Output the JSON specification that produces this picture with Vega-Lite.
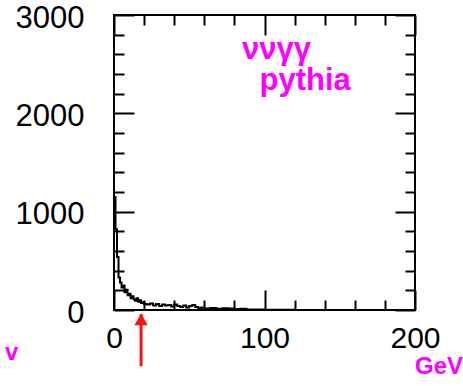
{
  "$schema": "https://vega.github.io/schema/vega-lite/v6.json",
  "autosize": "none",
  "width": 301,
  "height": 295,
  "padding": {"left": 114, "top": 15, "right": 48, "bottom": 76},
  "background": "white",
  "config": {
    "view": {"stroke": "black", "strokeWidth": 2},
    "axis": {
      "grid": false,
      "domain": false,
      "labelFont": "Liberation Sans",
      "labelFontSize": 30,
      "labelColor": "black",
      "tickColor": "black",
      "tickWidth": 2,
      "title": null
    }
  },
  "datasets": {
    "hist": [
      {"x": 0, "y": 1150}, {"x": 1, "y": 820}, {"x": 2, "y": 540}, {"x": 3, "y": 330},
      {"x": 4, "y": 280}, {"x": 5, "y": 230}, {"x": 6, "y": 250}, {"x": 7, "y": 180},
      {"x": 8, "y": 205}, {"x": 9, "y": 150}, {"x": 10, "y": 165}, {"x": 11, "y": 120},
      {"x": 12, "y": 140}, {"x": 13, "y": 110}, {"x": 14, "y": 95}, {"x": 15, "y": 120},
      {"x": 16, "y": 85}, {"x": 17, "y": 100}, {"x": 18, "y": 70}, {"x": 19, "y": 80},
      {"x": 20, "y": 60}, {"x": 22, "y": 55}, {"x": 24, "y": 65}, {"x": 26, "y": 45},
      {"x": 28, "y": 60}, {"x": 30, "y": 40}, {"x": 32, "y": 55}, {"x": 34, "y": 45},
      {"x": 36, "y": 50}, {"x": 38, "y": 35}, {"x": 40, "y": 55}, {"x": 42, "y": 40},
      {"x": 44, "y": 30}, {"x": 46, "y": 45}, {"x": 48, "y": 25}, {"x": 50, "y": 40},
      {"x": 52, "y": 50}, {"x": 54, "y": 30}, {"x": 56, "y": 20}, {"x": 58, "y": 25},
      {"x": 60, "y": 15}, {"x": 64, "y": 20}, {"x": 68, "y": 12}, {"x": 72, "y": 18},
      {"x": 76, "y": 15}, {"x": 80, "y": 10}, {"x": 84, "y": 12}, {"x": 88, "y": 6},
      {"x": 92, "y": 5}, {"x": 100, "y": 3}, {"x": 110, "y": 2}, {"x": 120, "y": 1},
      {"x": 140, "y": 0}, {"x": 200, "y": 0}
    ],
    "notes": [
      {"x": 108, "y": 2640, "label": "ννγγ"},
      {"x": 127, "y": 2330, "label": "pythia"}
    ],
    "small": [
      {"x": 216, "y": -580, "label": "GeV"},
      {"x": -68, "y": -440, "label": "v"}
    ],
    "arrow": [
      {"x": 18, "y": -570, "y2": -40}
    ],
    "head": [
      {"x": 18, "y": -95}
    ]
  },
  "resolve": {"axis": {"x": "independent", "y": "independent"}},
  "layer": [
    {
      "data": {"name": "hist"},
      "mark": {"type": "line", "interpolate": "step-after", "color": "black", "strokeWidth": 2},
      "encoding": {
        "x": {
          "field": "x", "type": "quantitative",
          "scale": {"domain": [0, 200], "nice": false, "zero": false},
          "axis": {
            "orient": "bottom",
            "values": [0, 20, 40, 60, 80, 100, 120, 140, 160, 180, 200],
            "tickSize": {"condition": {"test": "datum.value % 100 === 0", "value": -20}, "value": -10},
            "labelExpr": "datum.value % 100 === 0 ? datum.label : ''",
            "labelPadding": 33,
            "labelFlush": false
          }
        },
        "y": {
          "field": "y", "type": "quantitative",
          "scale": {"domain": [0, 3000], "nice": false, "zero": false},
          "axis": {
            "orient": "left",
            "values": [0, 200, 400, 600, 800, 1000, 1200, 1400, 1600, 1800, 2000, 2200, 2400, 2600, 2800, 3000],
            "tickSize": {"condition": {"test": "datum.value % 1000 === 0", "value": -20}, "value": -10},
            "labelExpr": "datum.value % 1000 === 0 ? datum.label : ''",
            "labelPadding": 50,
            "labelFontSize": 31,
            "labelOffset": 3,
            "labelFlush": false,
            "format": "d"
          }
        }
      }
    },
    {
      "data": {"name": "notes"},
      "mark": {"type": "text", "color": "#ff00ff", "font": "Liberation Sans", "fontSize": 31, "fontWeight": "bold", "align": "center", "baseline": "middle"},
      "encoding": {
        "x": {
          "field": "x", "type": "quantitative",
          "axis": {
            "orient": "top",
            "values": [0, 20, 40, 60, 80, 100, 120, 140, 160, 180, 200],
            "tickSize": {"condition": {"test": "datum.value % 100 === 0", "value": -20}, "value": -10},
            "labels": false
          }
        },
        "y": {
          "field": "y", "type": "quantitative",
          "axis": {
            "orient": "right",
            "values": [0, 200, 400, 600, 800, 1000, 1200, 1400, 1600, 1800, 2000, 2200, 2400, 2600, 2800, 3000],
            "tickSize": {"condition": {"test": "datum.value % 1000 === 0", "value": -20}, "value": -10},
            "labels": false
          }
        },
        "text": {"field": "label"}
      }
    },
    {
      "data": {"name": "small"},
      "mark": {"type": "text", "color": "#ff00ff", "font": "Liberation Sans", "fontSize": 24, "fontWeight": "bold", "align": "center", "baseline": "middle"},
      "encoding": {
        "x": {"field": "x", "type": "quantitative", "axis": null},
        "y": {"field": "y", "type": "quantitative", "axis": null},
        "text": {"field": "label"}
      }
    },
    {
      "data": {"name": "arrow"},
      "mark": {"type": "rule", "color": "#ff1010", "strokeWidth": 3},
      "encoding": {
        "x": {"field": "x", "type": "quantitative", "axis": null},
        "y": {"field": "y", "type": "quantitative", "axis": null},
        "y2": {"field": "y2"}
      }
    },
    {
      "data": {"name": "head"},
      "mark": {"type": "point", "shape": "triangle-up", "filled": true, "color": "#ff1010", "size": 180, "opacity": 1},
      "encoding": {
        "x": {"field": "x", "type": "quantitative", "axis": null},
        "y": {"field": "y", "type": "quantitative", "axis": null}
      }
    }
  ]
}
